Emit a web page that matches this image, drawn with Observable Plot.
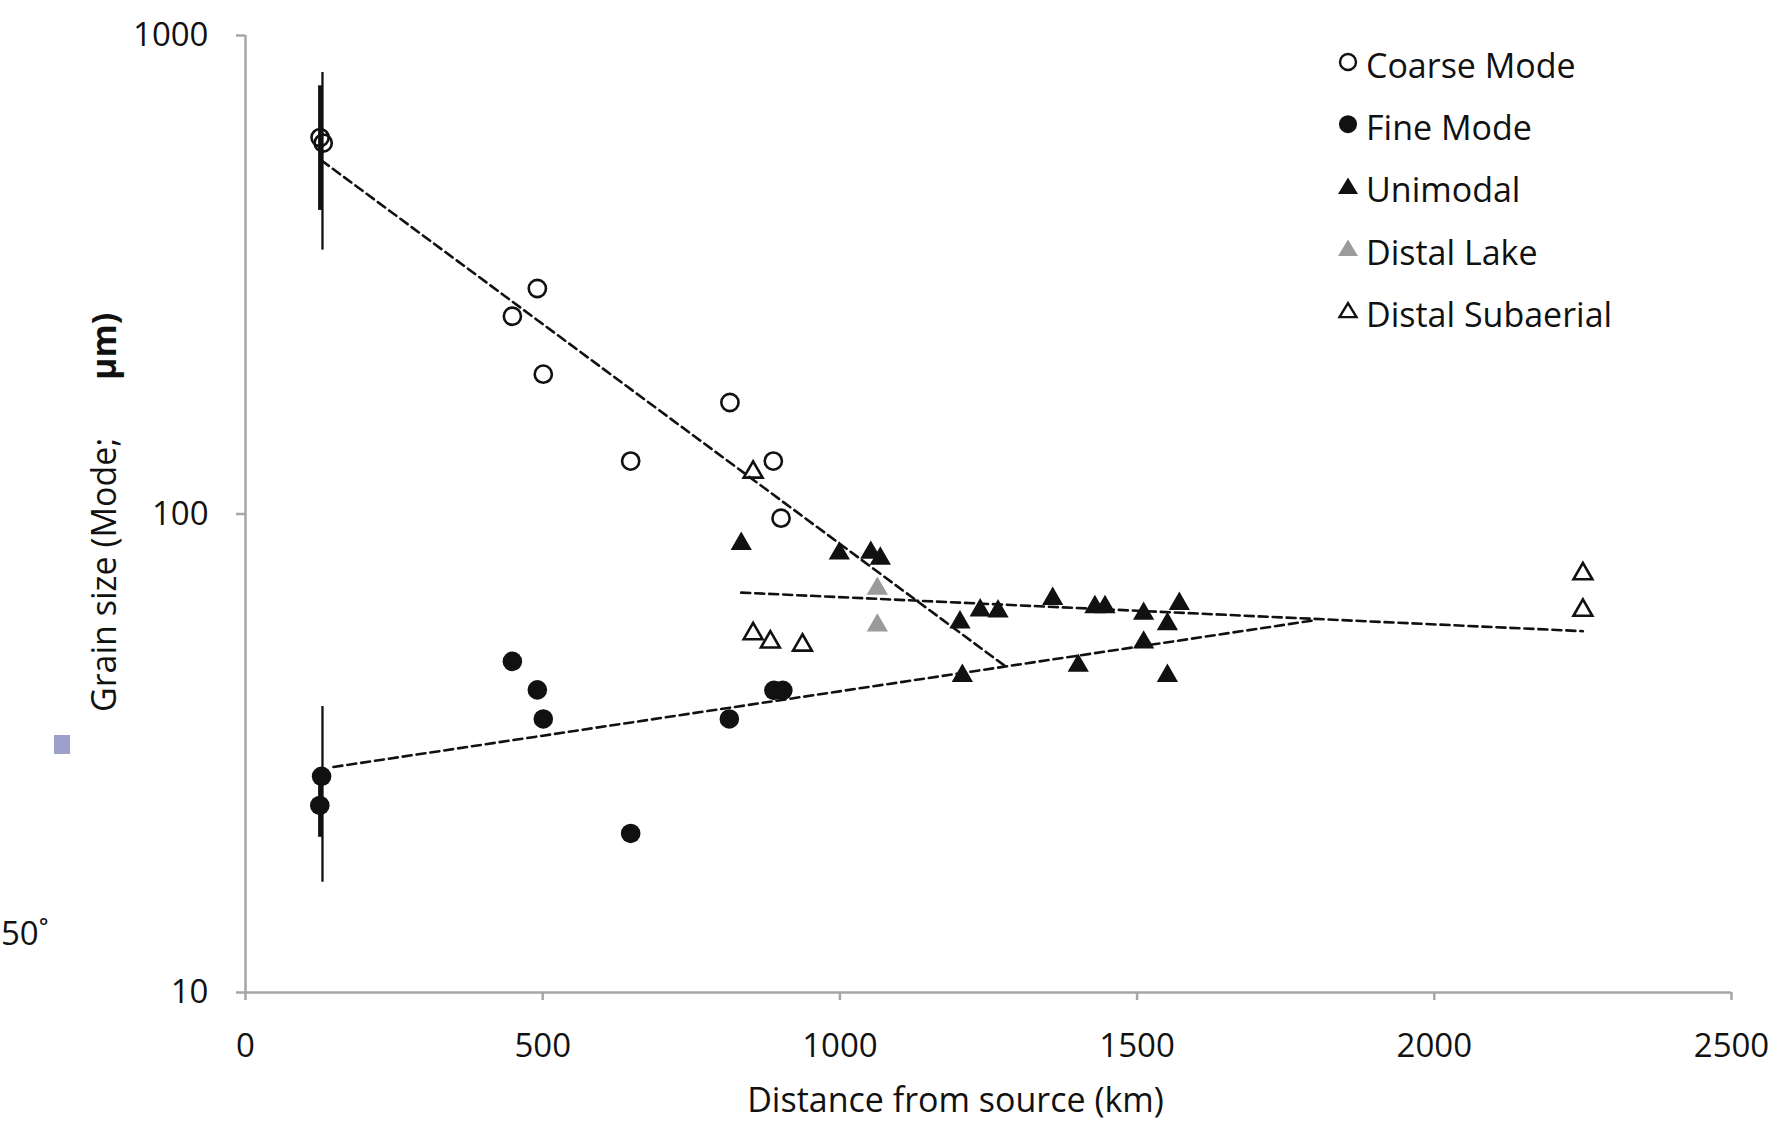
<!DOCTYPE html>
<html>
<head>
<meta charset="utf-8">
<script src="https://cdn.jsdelivr.net/npm/d3@7"></script>
<script src="https://cdn.jsdelivr.net/npm/@observablehq/plot@0.6"></script>
<style>
  html, body { margin: 0; padding: 0; background: #fff; }
  #chart { width: 1782px; height: 1134px; }
  #chart svg { display: block; }
</style>
</head>
<body>
<div id="chart"></div>
<script>
// ---- data ----
const coarseKm = [125.5, 130.7, 449, 491, 501, 648, 815, 888, 901];
const coarseUm = [612, 596, 259, 296, 196, 129, 171, 129, 98];

const fineKm = [128, 125, 449, 491, 501, 648, 814, 889, 904];
const fineUm = [28.3, 24.6, 49.2, 42.9, 37.3, 21.5, 37.3, 42.8, 42.8];

const unimodalKm = [834, 999, 1052, 1068, 1202, 1236, 1266, 1358, 1429, 1446, 1511, 1571, 1551, 1511, 1206, 1401, 1551];
const unimodalUm = [86.6, 82.7, 83.0, 80.7, 59.4, 62.9, 62.6, 66.5, 63.9, 63.9, 61.9, 64.9, 58.9, 53.9, 45.9, 48.2, 45.9];

const lakeKm = [1063, 1063];
const lakeUm = [69.8, 58.5];

const subaerialKm = [854, 854, 883, 937, 2250, 2250];
const subaerialUm = [122.3, 56.2, 54.0, 53.2, 75.0, 62.9];

// error bars (coarse mode sample, fine mode sample)
const errThickKm = [125.5, 125.5];
const errThickLo = [431, 21.1];
const errThickHi = [785, 29];
const errThinKm = [129.5, 129.5];
const errThinLo = [356, 17.0];
const errThinHi = [837, 39.6];

// dashed trend lines (end points)
const coarseTrendKm = [128, 1277];
const coarseTrendUm = [548, 48.2];
const fineTrendKm = [148, 1800];
const fineTrendUm = [29.6, 60];
const uniTrendKm = [834, 2250];
const uniTrendUm = [68.5, 56.9];

const xTicks = [0, 500, 1000, 1500, 2000, 2500];
const yTicks = [10, 100, 1000];
const xTitle = "Distance from source (km)";
const yTitleA = "Grain size (Mode;";
const yTitleB = "µm)";
const legendLabels = ["Coarse Mode", "Fine Mode", "Unimodal", "Distal Lake", "Distal Subaerial"];

// ---- helpers ----
const pts = (xs, ys) => xs.map((x, i) => ({x, y: ys[i]}));
const bars = (xs, lo, hi) => xs.map((x, i) => ({x, y1: lo[i], y2: hi[i]}));

const INK = "#111";
const AXIS = "#a6a6a6";
const FONT = "'Open Sans', 'Noto Sans', sans-serif";
const DASH = {stroke: INK, strokeWidth: 2.6, strokeDasharray: "9,5"};

const chart = Plot.plot({
  width: 1782,
  height: 1134,
  marginLeft: 245,
  marginRight: 51,
  marginTop: 35,
  marginBottom: 142,
  style: {fontFamily: FONT, fontSize: "33px", color: INK, background: "#fff"},
  x: {domain: [0, 2500]},
  y: {type: "log", domain: [10, 1000]},
  marks: [
    Plot.ruleY([10], {stroke: AXIS, strokeWidth: 2.5}),
    Plot.ruleX([0], {stroke: AXIS, strokeWidth: 2.5}),
    Plot.axisX({ticks: xTicks, tickSize: 8, tickPadding: 33, tickFormat: d => String(d),
      stroke: AXIS, strokeWidth: 2.5, fill: INK, label: null, fontSize: 33}),
    Plot.axisY({ticks: yTicks, tickSize: 9, tickPadding: 28, tickFormat: d => String(d),
      stroke: AXIS, strokeWidth: 2.5, fill: INK, label: null, fontSize: 33}),
    Plot.text([xTitle], {text: d => d, frameAnchor: "bottom", dx: -33, dy: 119,
      fontSize: 34, fill: INK}),

    // trend lines
    Plot.line(pts(coarseTrendKm, coarseTrendUm), {x: "x", y: "y", ...DASH}),
    Plot.line(pts(fineTrendKm, fineTrendUm), {x: "x", y: "y", ...DASH}),
    Plot.line(pts(uniTrendKm, uniTrendUm), {x: "x", y: "y", ...DASH}),

    // error bars
    Plot.ruleX(bars(errThickKm, errThickLo, errThickHi), {x: "x", y1: "y1", y2: "y2", stroke: INK, strokeWidth: 4}),
    Plot.ruleX(bars(errThinKm, errThinLo, errThinHi), {x: "x", y1: "y1", y2: "y2", stroke: INK, strokeWidth: 2.3}),

    // points
    Plot.dot(pts(fineKm, fineUm), {x: "x", y: "y", r: 9.8, fill: INK, stroke: "none"}),
    Plot.dot(pts(coarseKm, coarseUm), {x: "x", y: "y", r: 8.6, fill: "none", stroke: INK, strokeWidth: 2.6}),
    Plot.dot(pts(unimodalKm, unimodalUm), {x: "x", y: "y", symbol: "triangle", r: 7.9, fill: INK, stroke: "none"}),
    Plot.dot(pts(lakeKm, lakeUm), {x: "x", y: "y", symbol: "triangle", r: 7.9, fill: "#9b9b9b", stroke: "none"}),
    Plot.dot(pts(subaerialKm, subaerialUm), {x: "x", y: "y", symbol: "triangle", r: 7.0, fill: "none", stroke: INK, strokeWidth: 2.6})
  ]
});

document.getElementById("chart").appendChild(chart);

const svg = d3.select(chart);

// rotated y title with bold unit
const yt = svg.append("text")
  .attr("transform", "translate(116,712) rotate(-90)")
  .attr("text-anchor", "start")
  .attr("font-family", FONT)
  .attr("font-size", 34)
  .attr("fill", INK);
yt.append("tspan").attr("x", 0).text(yTitleA);
yt.append("tspan").attr("x", 332).attr("font-weight", "bold").text(yTitleB);

// stray artifacts present in the source figure
svg.append("text").attr("x", 1).attr("y", 945).attr("text-anchor", "start")
  .attr("font-family", FONT).attr("font-size", 33).attr("fill", INK).text("50˚");
svg.append("rect").attr("x", 54).attr("y", 735).attr("width", 16).attr("height", 19).attr("fill", "#9ba1c8");

// legend
const lg = svg.append("g").attr("font-family", FONT).attr("font-size", 34)
  .attr("fill", INK).attr("text-anchor", "start");
const tri = "M0,-9L10,7.5L-10,7.5Z";
const legendStyles = [
  {type: "circle", r: 8, fill: "none", stroke: INK},
  {type: "circle", r: 9, fill: INK, stroke: "none"},
  {type: "tri", fill: INK, stroke: "none"},
  {type: "tri", fill: "#9b9b9b", stroke: "none"},
  {type: "tri", fill: "none", stroke: INK, scale: 0.85}
];
legendLabels.forEach((lab, i) => {
  const base = 78 + i * 62.2;
  const st = legendStyles[i];
  const g = lg.append("g").attr("transform", `translate(1348,${base - 16})`);
  if (st.type === "circle") {
    g.append("circle").attr("r", st.r).attr("fill", st.fill).attr("stroke", st.stroke).attr("stroke-width", 2.4);
  } else {
    g.append("path").attr("d", tri).attr("transform", st.scale ? `scale(${st.scale})` : null)
      .attr("fill", st.fill).attr("stroke", st.stroke).attr("stroke-width", 2.8).attr("stroke-linejoin", "miter");
  }
  lg.append("text").attr("x", 1366).attr("y", base).text(lab);
});
</script>
</body>
</html>
